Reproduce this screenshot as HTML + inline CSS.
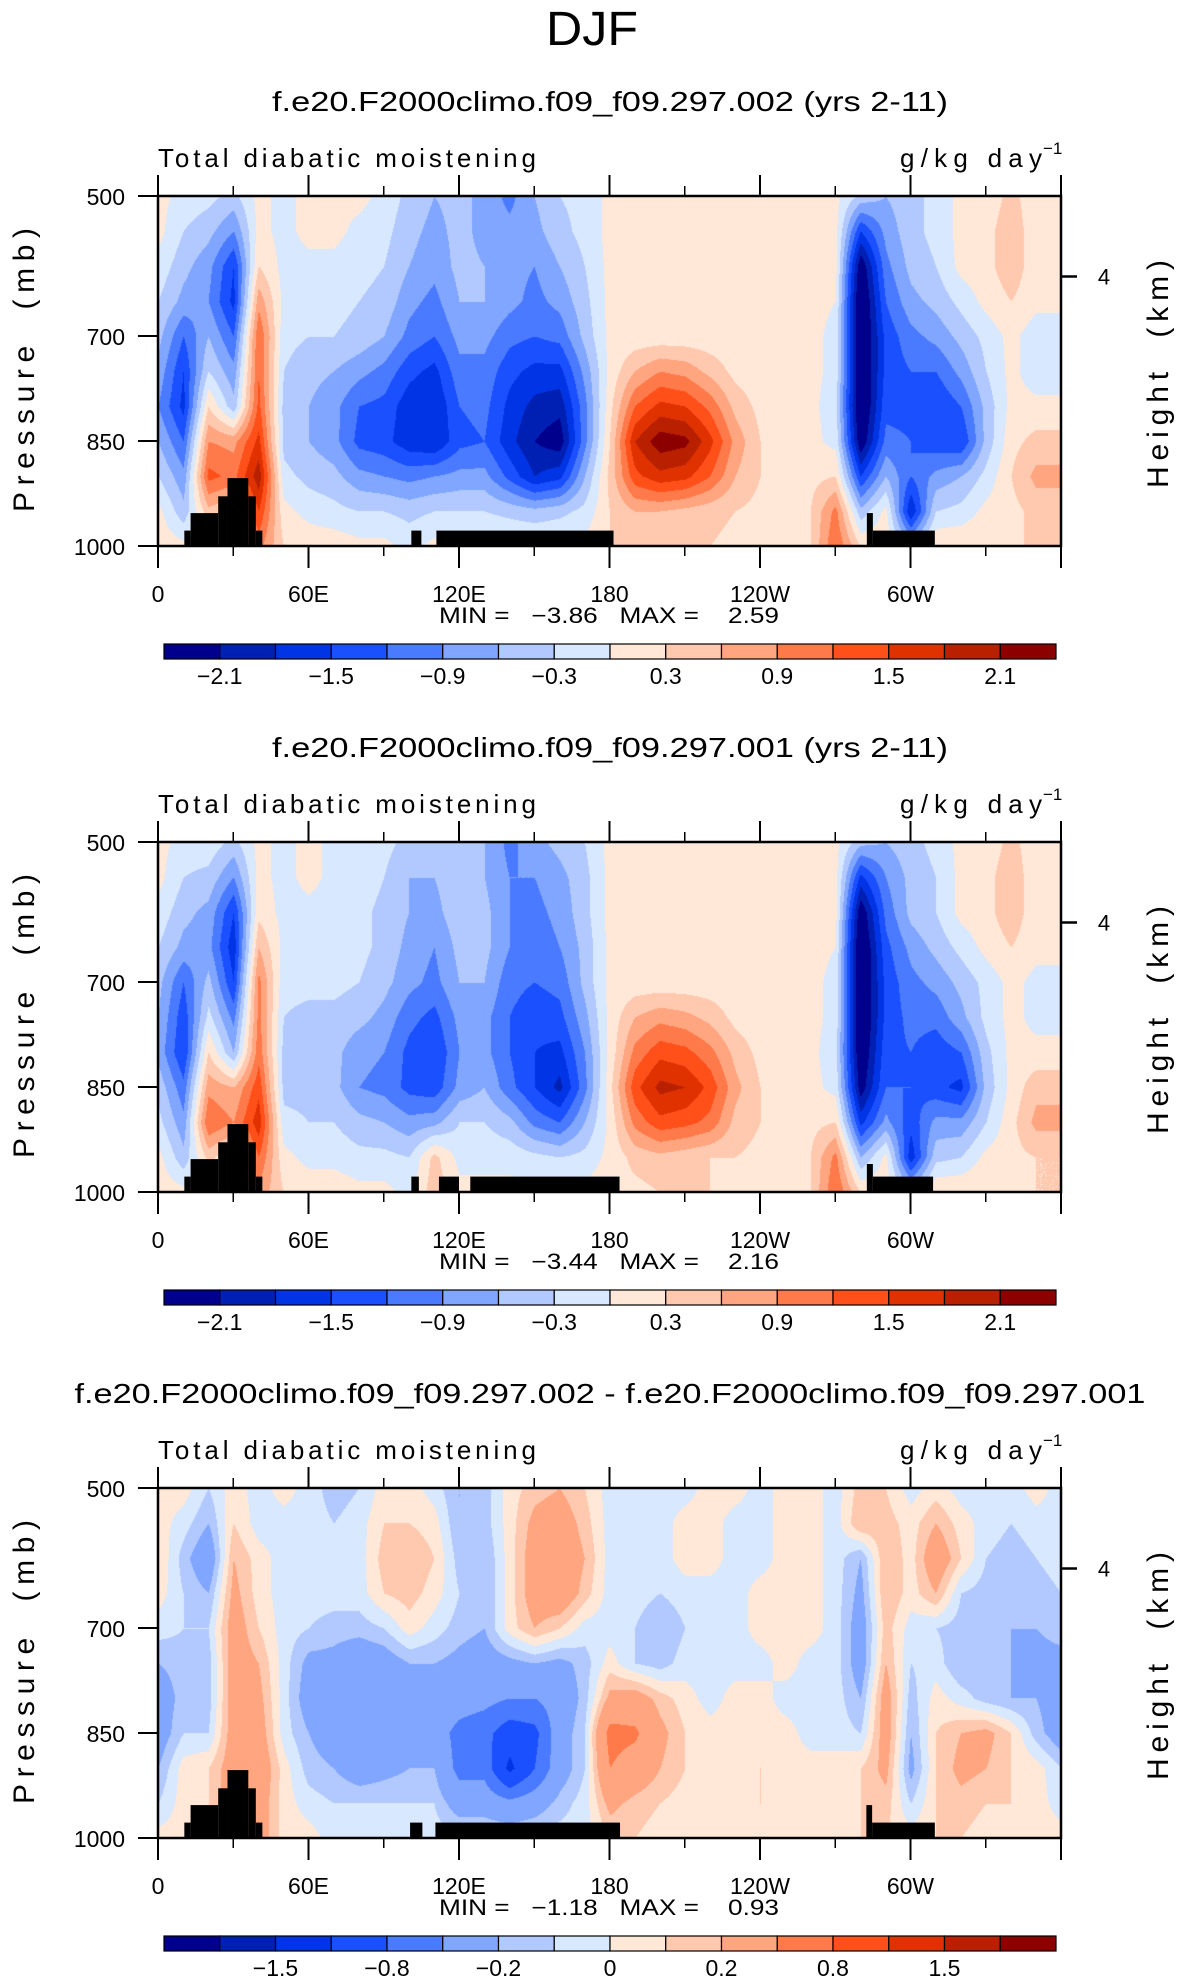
<!DOCTYPE html>
<html><head><meta charset="utf-8">
<style>
html,body{margin:0;padding:0;background:#fff;}
#wrap{position:relative;width:1186px;height:1987px;overflow:hidden;background:#fff;}
canvas{position:absolute;}
svg{position:absolute;left:0;top:0;}
text{font-family:"Liberation Sans",sans-serif;fill:#000;white-space:pre;}
</style></head>
<body>
<div id="wrap">
<canvas id="c0" width="903" height="350" style="left:158px;top:196px"></canvas>
<canvas id="c1" width="903" height="350" style="left:158px;top:842px"></canvas>
<canvas id="c2" width="903" height="350" style="left:158px;top:1488px"></canvas>
<svg id="svg" width="1186" height="1987" xmlns="http://www.w3.org/2000/svg">
<text x="592" y="45" font-size="48" text-anchor="middle" textLength="92" lengthAdjust="spacingAndGlyphs" style="font-weight:300">DJF</text>
</svg>
</div>
<script>
// ---------- data ----------
const lons = [0,10,20,30,40,50,60,70,80,90,100,110,120,130,140,150,160,170,180,190,200,210,220,230,240,250,260,270,280,290,300,310,320,330,340,350,360];
const pressures = [500,550,600,650,700,750,800,850,900,950,1000];

const field1 = [
[0.1,-0.1,-0.2,-0.4,0.1,-0.1,0.1,0.1,0.1,-0.1,-0.4,-0.6,-0.5,-0.7,-1.0,-0.6,-0.3,-0.2,0.1,0.1,0.1,0.1,0.1,0.1,0.1,0.1,0.1,0.1,-0.4,-0.6,-0.4,-0.2,0.1,0.1,0.4,0.1,0.1],
[0.1,-0.3,-0.5,-0.9,0.1,-0.1,0.1,0.1,-0.1,-0.2,-0.5,-0.7,-0.5,-0.7,-0.8,-0.7,-0.4,-0.2,0.1,0.1,0.1,0.1,0.1,0.1,0.1,0.1,0.1,0.1,-1.5,-0.8,-0.4,-0.2,0.1,0.2,0.5,0.1,0.1],
[-0.1,-0.5,-0.8,-1.5,0.3,-0.1,-0.1,-0.1,-0.2,-0.3,-0.6,-0.8,-0.5,-0.6,-0.8,-0.9,-0.6,-0.3,0.1,0.1,0.1,0.1,0.1,0.1,0.1,0.1,0.1,0.1,-2.4,-1.0,-0.5,-0.3,0.1,0.2,0.5,0.1,0.1],
[-0.3,-0.7,-0.9,-1.6,0.8,-0.1,-0.2,-0.2,-0.3,-0.4,-0.8,-1.0,-0.6,-0.6,-0.8,-1.0,-0.8,-0.4,0.1,0.1,0.1,0.1,0.1,0.1,0.1,0.1,0.1,0.0,-2.6,-1.2,-0.7,-0.5,-0.2,0.1,0.3,0.1,0.1],
[-0.5,-1.2,-0.6,-1.2,1.2,-0.2,-0.3,-0.3,-0.4,-0.6,-1.0,-1.2,-0.8,-0.8,-1.1,-1.2,-1.1,-0.5,0.1,0.1,0.1,0.1,0.1,0.1,0.1,0.1,0.1,-0.1,-2.6,-1.4,-1.0,-0.8,-0.5,-0.2,0.1,-0.2,-0.2],
[-0.7,-1.5,-0.3,-0.8,1.2,-0.3,-0.5,-0.6,-0.8,-1.0,-1.4,-1.6,-1.0,-1.0,-1.4,-1.6,-1.6,-0.8,0.1,0.6,0.9,0.8,0.5,0.2,0.1,0.1,0.1,-0.1,-2.6,-1.4,-1.2,-1.2,-0.8,-0.3,0.1,-0.2,-0.2],
[-0.9,-1.6,0.3,-0.5,1.3,-0.4,-0.6,-0.8,-1.2,-1.3,-1.7,-1.8,-1.2,-1.1,-1.6,-1.9,-2.0,-1.0,0.2,1.2,1.6,1.5,1.1,0.5,0.2,0.1,0.1,-0.2,-2.6,-1.3,-1.3,-1.5,-1.2,-0.5,0.1,0.1,0.1],
[-0.6,-1.2,0.9,0.8,1.6,-0.4,-0.6,-0.8,-1.3,-1.4,-1.7,-1.8,-1.3,-1.2,-1.7,-2.1,-2.3,-1.0,0.3,1.8,2.3,2.2,1.6,0.8,0.3,0.1,0.1,-0.1,-2.4,-1.1,-1.2,-1.4,-1.5,-0.5,0.2,0.4,0.4],
[-0.3,-0.8,1.3,1.1,2.0,-0.2,-0.4,-0.5,-0.8,-0.9,-1.0,-0.9,-0.8,-0.8,-1.3,-1.8,-1.6,-0.6,0.4,1.4,1.7,1.6,1.2,0.6,0.3,0.2,0.2,0.3,-1.5,-0.6,-1.2,-0.8,-0.6,-0.2,0.3,0.7,0.7],
[0.1,-0.5,0.5,0.3,1.5,0.1,-0.1,-0.2,-0.3,-0.3,-0.4,-0.3,-0.3,-0.3,-0.4,-0.5,-0.4,-0.2,0.3,0.6,0.6,0.5,0.4,0.3,0.2,0.2,0.3,1.0,-0.5,0.1,-1.8,-0.3,-0.2,0.1,0.2,0.4,0.4],
[0.2,0.1,0.3,0.3,1.0,0.3,0.2,0.2,0.1,0.1,-0.1,0.1,0.1,0.1,0.1,0.1,0.1,0.1,0.3,0.3,0.3,0.3,0.3,0.2,0.2,0.2,0.3,1.2,0.3,0.2,-0.5,0.3,0.3,0.3,0.3,0.3,0.3]
];
const field2 = [
[0.1,-0.1,-0.1,-0.4,0.1,-0.1,0.1,-0.1,-0.1,-0.2,-0.4,-0.5,-0.4,-0.6,-1.0,-0.7,-0.5,-0.3,0.1,0.1,0.1,0.1,0.1,0.1,0.1,0.1,0.1,0.1,-0.5,-0.6,-0.4,-0.2,0.1,0.1,0.4,0.1,0.1],
[0.1,-0.3,-0.4,-0.9,0.1,-0.1,0.1,-0.1,-0.1,-0.3,-0.6,-0.6,-0.4,-0.6,-0.9,-0.9,-0.7,-0.4,0.1,0.1,0.1,0.1,0.1,0.1,0.1,0.1,0.1,0.1,-1.6,-0.9,-0.5,-0.3,0.1,0.2,0.5,0.1,0.1],
[-0.1,-0.5,-0.7,-1.5,0.2,-0.1,-0.1,-0.1,-0.2,-0.4,-0.6,-0.7,-0.4,-0.5,-0.9,-1.0,-0.8,-0.4,0.1,0.1,0.1,0.1,0.1,0.1,0.1,0.1,0.1,0.1,-2.4,-1.1,-0.5,-0.3,0.1,0.2,0.5,0.1,0.1],
[-0.3,-0.7,-0.8,-1.7,0.6,-0.1,-0.1,-0.1,-0.2,-0.4,-0.7,-0.9,-0.5,-0.5,-0.9,-1.1,-0.9,-0.5,0.1,0.1,0.1,0.1,0.1,0.1,0.1,0.1,0.1,0.0,-2.6,-1.3,-0.8,-0.5,-0.2,0.1,0.3,0.1,0.1],
[-0.5,-1.2,-0.5,-1.5,1.0,-0.2,-0.2,-0.2,-0.3,-0.5,-0.8,-1.0,-0.6,-0.6,-1.1,-1.2,-1.1,-0.5,0.1,0.1,0.1,0.1,0.1,0.1,0.1,0.1,0.1,-0.1,-2.6,-1.4,-1.0,-0.8,-0.5,-0.2,0.1,-0.1,-0.1],
[-0.6,-1.4,-0.2,-1.0,1.0,-0.3,-0.4,-0.4,-0.5,-0.7,-1.1,-1.3,-0.8,-0.8,-1.2,-1.4,-1.3,-0.7,0.1,0.6,0.8,0.7,0.5,0.2,0.1,0.1,0.1,-0.1,-2.6,-1.4,-1.1,-1.1,-0.7,-0.2,0.1,-0.1,-0.1],
[-0.7,-1.5,0.3,-0.6,1.1,-0.4,-0.4,-0.5,-0.8,-0.9,-1.3,-1.5,-0.9,-0.8,-1.2,-1.5,-1.6,-0.9,0.1,1.0,1.4,1.3,1.0,0.5,0.2,0.1,0.1,-0.2,-2.5,-1.3,-1.2,-1.4,-1.2,-0.4,0.1,0.1,0.1],
[-0.4,-1.1,0.8,0.6,1.4,-0.4,-0.4,-0.5,-0.9,-1.0,-1.3,-1.4,-0.8,-0.6,-1.1,-1.5,-1.9,-1.0,0.2,1.4,1.9,1.8,1.4,0.7,0.3,0.1,0.1,-0.1,-2.3,-1.2,-1.2,-1.4,-1.6,-0.5,0.1,0.5,0.5],
[-0.2,-0.8,1.2,0.9,1.7,-0.2,-0.3,-0.3,-0.5,-0.6,-0.8,-0.7,-0.3,-0.3,-0.5,-1.0,-1.2,-0.6,0.1,1.0,1.4,1.3,1.1,0.5,0.3,0.2,0.2,0.3,-1.6,-0.8,-1.4,-0.8,-0.8,-0.3,0.2,0.7,0.7],
[0.1,-0.5,0.4,0.0,1.2,0.1,-0.1,-0.1,-0.2,-0.2,-0.3,0.4,-0.1,-0.1,-0.1,-0.2,-0.3,-0.2,0.1,0.4,0.5,0.4,0.3,0.3,0.2,0.2,0.3,1.0,-0.6,0.1,-1.7,-0.4,-0.3,0.1,0.2,0.3,0.3],
[0.2,0.1,0.3,0.2,0.8,0.3,0.2,0.2,0.1,0.1,-0.1,0.5,0.1,0.1,0.1,0.1,0.1,0.1,0.2,0.2,0.3,0.3,0.3,0.2,0.2,0.2,0.3,1.2,0.3,0.2,-0.4,0.3,0.3,0.3,0.3,0.3,0.3]
];
const field3 = [
[0.05,0.05,-0.1,0.05,-0.05,0.05,-0.05,-0.15,-0.1,0.05,0.05,-0.05,-0.2,-0.15,0.05,0.15,0.2,0.1,-0.05,-0.05,-0.05,-0.05,0.05,0.05,-0.05,0.05,0.05,-0.05,0.15,0.1,-0.05,0.05,-0.05,-0.05,-0.05,0.05,-0.05],
[0.05,-0.05,-0.2,0.1,-0.05,-0.05,-0.05,-0.1,-0.05,0.1,0.1,0.05,-0.2,-0.15,0.05,0.25,0.3,0.15,-0.05,-0.05,-0.05,0.05,0.05,-0.05,-0.05,0.05,0.05,-0.05,0.2,0.15,0.05,0.2,0.05,-0.05,-0.1,-0.05,-0.05],
[0.1,-0.15,-0.35,0.2,0.05,-0.05,-0.05,-0.05,-0.05,0.15,0.2,0.1,-0.15,-0.2,0.05,0.3,0.35,0.2,-0.05,-0.05,-0.05,0.05,0.05,-0.05,-0.05,0.05,0.05,-0.05,-0.2,0.2,0.05,0.35,0.1,-0.1,-0.15,-0.1,-0.05],
[0.05,-0.1,-0.2,0.25,0.05,-0.05,-0.05,-0.05,-0.05,0.1,0.15,0.05,-0.1,-0.2,0.05,0.3,0.35,0.15,-0.05,-0.05,-0.1,-0.05,-0.05,-0.05,0.05,0.05,0.05,-0.05,-0.25,0.2,0.05,0.2,-0.1,-0.15,-0.2,-0.15,-0.1],
[-0.05,-0.1,-0.1,0.3,0.1,-0.05,-0.1,-0.15,-0.15,-0.1,0.05,-0.05,-0.15,-0.2,0.05,0.2,0.1,-0.05,-0.05,-0.1,-0.2,-0.1,-0.05,-0.05,0.05,0.05,0.05,-0.05,-0.3,0.15,-0.05,-0.1,-0.15,-0.15,-0.2,-0.2,-0.15],
[-0.2,-0.15,-0.15,0.3,0.2,-0.05,-0.25,-0.25,-0.35,-0.3,-0.2,-0.2,-0.25,-0.3,-0.25,-0.2,-0.25,-0.15,0.05,-0.1,-0.15,-0.05,-0.05,-0.05,-0.05,0.05,-0.05,-0.05,-0.3,0.2,-0.1,-0.05,-0.2,-0.15,-0.2,-0.25,-0.25],
[-0.3,-0.15,-0.15,0.3,0.25,-0.05,-0.3,-0.35,-0.4,-0.4,-0.35,-0.3,-0.35,-0.4,-0.5,-0.5,-0.35,-0.15,0.25,0.3,0.15,0.05,-0.05,0.05,0.05,-0.05,-0.05,-0.05,-0.2,0.3,-0.15,0.05,-0.05,-0.15,-0.2,-0.2,-0.3],
[-0.3,-0.1,-0.1,0.3,0.3,-0.05,-0.2,-0.3,-0.35,-0.4,-0.4,-0.35,-0.6,-0.7,-1.0,-0.9,-0.3,-0.1,0.6,0.55,0.25,0.1,0.05,0.05,0.05,0.05,-0.05,-0.05,-0.1,0.3,-0.2,0.1,0.2,0.25,0.1,-0.15,-0.3],
[-0.2,0.05,0.1,0.3,0.35,0.05,-0.15,-0.2,-0.3,-0.25,-0.2,-0.2,-0.6,-0.6,-1.3,-0.8,-0.3,-0.1,0.5,0.35,0.2,0.1,0.05,0.05,0.1,0.05,0.05,0.05,0.1,0.25,-0.25,0.1,0.25,0.2,0.1,0.05,-0.1],
[-0.1,0.05,0.1,0.3,0.3,0.05,-0.05,-0.1,-0.1,-0.1,-0.1,-0.1,-0.3,-0.3,-0.4,-0.3,-0.15,-0.05,0.25,0.15,0.1,0.05,0.05,0.05,0.1,0.05,0.05,0.05,0.1,0.15,-0.1,0.1,0.15,0.1,0.1,0.05,-0.05],
[0.05,0.05,0.1,0.2,0.3,0.05,0.05,-0.05,-0.05,-0.05,-0.05,-0.05,-0.05,-0.05,-0.05,-0.05,-0.05,-0.05,0.1,0.1,0.05,0.05,0.05,0.05,0.05,0.05,0.05,0.05,0.1,0.1,0.05,0.1,0.1,0.05,0.05,0.05,0.05]
];

const levelsAbs = [-2.1,-1.8,-1.5,-1.2,-0.9,-0.6,-0.3,0,0.3,0.6,0.9,1.2,1.5,1.8,2.1];
const levelsDiff = [-1.8,-1.5,-1.2,-0.8,-0.5,-0.2,-0.1,0,0.1,0.2,0.5,0.8,1.2,1.5,1.8];
const labelsAbs = ["−2.1","−1.5","−0.9","−0.3","0.3","0.9","1.5","2.1"];
const labelIdxAbs = [0,2,4,6,8,10,12,14];
const labelsDiff = ["−1.5","−0.8","−0.2","0","0.2","0.8","1.5"];
const labelIdxDiff = [1,3,5,7,9,11,13];
const palette = ["#00008c","#0020b4","#0034e4","#1a50ff","#4a7aff","#80a6ff","#b2c9ff","#d8e8ff","#ffe8d8","#ffc9b0","#ffa57f","#ff7a4a","#ff501a","#e03200","#b82000","#8c0000"];

const terrainLon0 = [[10.5,13,24,27.7,36,39,101,111,282.6,285],[10.5,13,24,27.7,36,39,101,112,124.5,282.6,285],[10.5,13,24,27.7,36,39,100.5,110.6,282.4,284.7]];
const terrainLon1 = [[13,24,27.7,36,39,41.6,105,181.6,285,309.7],[13,24,27.7,36,39,41.6,104,120,184,285,309],[13,24,27.7,36,39,41.6,105.4,184.2,284.7,309.7]];
const terrainP = [[978,953,929,903,929,978,978,978,953,978],[978,953,929,903,929,978,978,978,978,960,978],[978,953,929,903,929,978,978,978,953,978]];

const titles = ["f.e20.F2000climo.f09_f09.297.002 (yrs 2-11)","f.e20.F2000climo.f09_f09.297.001 (yrs 2-11)","f.e20.F2000climo.f09_f09.297.002 - f.e20.F2000climo.f09_f09.297.001"];
const titleLen = [676,676,1071];
const minVals = ["−3.86","−3.44","−1.18"];
const maxVals = ["2.59","2.16","0.93"];
const lonTicks = [0,60,120,180,240,300,360];
const lonTickLabels = ["0","60E","120E","180","120W","60W",""];
const lonMinor = [30,90,150,210,270,330];
const pTicks = [500,700,850,1000];

// ---------- geometry ----------
const PL=158, PW=903, PH=350, PT0=196, DY=646;
const xS = lon => PL + lon/360*PW;
const yS = (p,off) => PT0+off + (p-500)/500*PH;

const NS="http://www.w3.org/2000/svg";
const svg=document.getElementById('svg');
function mk(tag,attrs,parent){const e=document.createElementNS(NS,tag);for(const k in attrs)e.setAttribute(k,attrs[k]);(parent||svg).appendChild(e);return e;}
function hex(h){return [parseInt(h.substr(1,2),16),parseInt(h.substr(3,2),16),parseInt(h.substr(5,2),16)];}
const palRGB = palette.map(hex);

function valAt(f,lon,p){
  let fi=lon/10, fj=(p-500)/50;
  let i=Math.min(Math.floor(fi),lons.length-2), j=Math.min(Math.floor(fj),pressures.length-2);
  let a=fi-i, b=fj-j;
  return f[j][i]*(1-a)*(1-b)+f[j][i+1]*a*(1-b)+f[j+1][i]*(1-a)*b+f[j+1][i+1]*a*b;
}
function bin(v,lev){let k=0;while(k<lev.length&&v>=lev[k])k++;return k;}

const fields=[field1,field2,field3];
for(let k=0;k<3;k++){
  const f=fields[k], lev=k<2?levelsAbs:levelsDiff;
  const cv=document.getElementById('c'+k), ctx=cv.getContext('2d');
  const img=ctx.createImageData(PW,PH);
  for(let y=0;y<PH;y++){
    const p=500+y/PH*500;
    for(let x=0;x<PW;x++){
      const lon=x/PW*360;
      const c=palRGB[bin(valAt(f,lon,p),lev)];
      const o=(y*PW+x)*4;
      img.data[o]=c[0];img.data[o+1]=c[1];img.data[o+2]=c[2];img.data[o+3]=255;
    }
  }
  ctx.putImageData(img,0,0);

  const off=k*DY;
  const g=mk('g',{});
  
  
  for(let t=0;t<terrainP[k].length;t++){
    const r=mk('rect',{x:xS(terrainLon0[k][t]),y:yS(terrainP[k][t],off),width:xS(terrainLon1[k][t])-xS(terrainLon0[k][t]),height:yS(1000,off)-yS(terrainP[k][t],off),fill:'#000'},g);
    
    
  }
  const fr=mk('rect',{x:PL,y:PT0+off,width:PW,height:PH,fill:'none',stroke:'#000','stroke-width':2.5},g);
  
  
  lonTicks.forEach((l,i)=>{
    const x=xS(l);
    mk('line',{x1:x,x2:x,y1:PT0+off-21,y2:PT0+off,stroke:'#000','stroke-width':2},g);
    mk('line',{x1:x,x2:x,y1:PT0+off+PH,y2:PT0+off+PH+22,stroke:'#000','stroke-width':2},g);
    if(lonTickLabels[i]){
      const t=mk('text',{x:x,y:PT0+off+PH+56,'font-size':23,'text-anchor':'middle'},g);
      t.textContent=lonTickLabels[i];
      
      
    }
  });
  lonMinor.forEach(l=>{
    const x=xS(l);
    mk('line',{x1:x,x2:x,y1:PT0+off-10,y2:PT0+off,stroke:'#000','stroke-width':1.5},g);
    mk('line',{x1:x,x2:x,y1:PT0+off+PH,y2:PT0+off+PH+10,stroke:'#000','stroke-width':1.5},g);
  });
  pTicks.forEach(p=>{
    const y=yS(p,off);
    mk('line',{x1:PL-20,x2:PL,y1:y,y2:y,stroke:'#000','stroke-width':2},g);
    const t=mk('text',{x:PL-33,y:y+9,'font-size':23,'text-anchor':'end'},g);
    t.textContent=String(p);
    
    
  });
  const y4=yS(615,off);
  mk('line',{x1:PL+PW,x2:PL+PW+16,y1:y4,y2:y4,stroke:'#000','stroke-width':2.5},g);
  const t4=mk('text',{x:1104,y:y4+8,'font-size':22,'text-anchor':'middle'},g);
  t4.textContent='4';
  
  
  const yl=mk('text',{x:0,y:0,'font-size':30,'text-anchor':'middle',textLength:284,lengthAdjust:'spacing',transform:`translate(34,${370+off}) rotate(-90)`},g);
  yl.textContent='Pressure  (mb)';
  
  
  const yr=mk('text',{x:0,y:0,'font-size':30,'text-anchor':'middle',textLength:228,lengthAdjust:'spacing',transform:`translate(1168,${374+off}) rotate(-90)`},g);
  yr.textContent='Height  (km)';
  
  
  const tt=mk('text',{x:610,y:111+off,'font-size':28,'text-anchor':'middle',textLength:titleLen[k],lengthAdjust:'spacingAndGlyphs'},g);
  tt.textContent=titles[k];
  
  
  const lt=mk('text',{x:158,y:167+off,'font-size':26,textLength:378,lengthAdjust:'spacing'},g);
  lt.textContent='Total diabatic moistening';
  
  
  const ut=mk('text',{x:900,y:167+off,'font-size':26,textLength:142,lengthAdjust:'spacing'},g);
  ut.textContent='g/kg day';
  
  
  const us=mk('text',{x:1043,y:154+off,'font-size':17},g);
  us.textContent='−1';
  
  
  const mm=mk('text',{x:439,y:623+off,'font-size':22,textLength:340,lengthAdjust:'spacingAndGlyphs'},g);
  mm.textContent='MIN =   '+minVals[k]+'   MAX =    '+maxVals[k];
  
  
  const cbx=164, cbw=892, cby=644+off, cbh=15, bw=cbw/16;
  for(let c=0;c<16;c++){
    const r=mk('rect',{x:cbx+c*bw,y:cby,width:bw,height:cbh,fill:palette[c],stroke:'#000','stroke-width':1.2},g);
    
    
  }
  const labs=k<2?labelsAbs:labelsDiff, idx=k<2?labelIdxAbs:labelIdxDiff;
  labs.forEach((s,i)=>{
    const t=mk('text',{x:cbx+(idx[i]+1)*bw,y:cby+40,'font-size':23,'text-anchor':'middle'},g);
    t.textContent=s;
    
    
  });
}
</script>
</body></html>
